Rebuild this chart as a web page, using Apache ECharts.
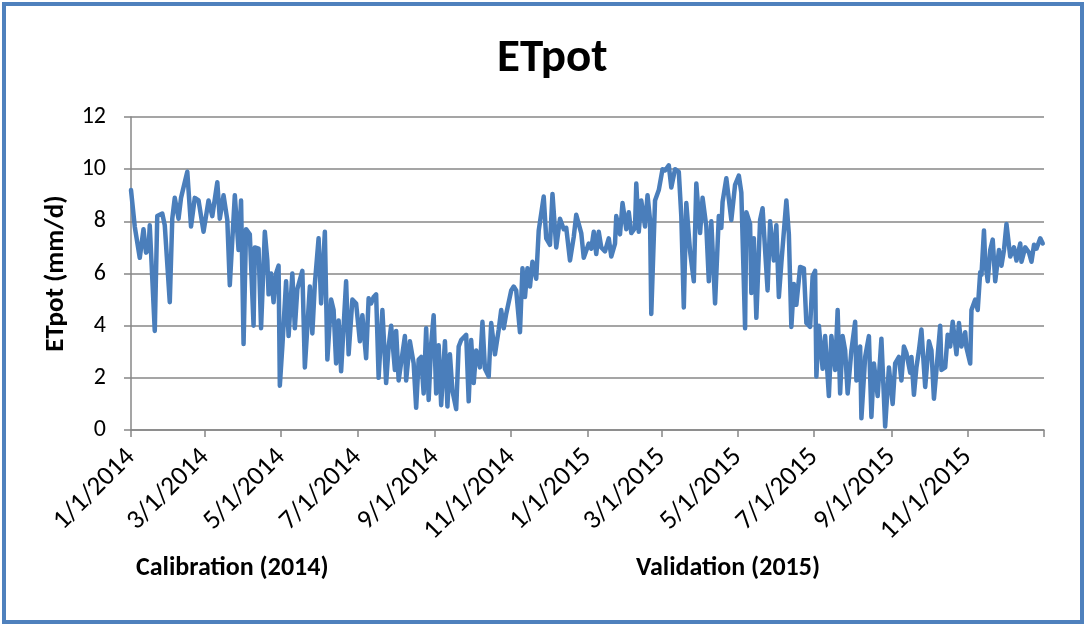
<!DOCTYPE html>
<html><head><meta charset="utf-8">
<script src="https://cdn.jsdelivr.net/npm/echarts@6/dist/echarts.min.js"></script>
<style>html,body{margin:0;padding:0;background:#fff}#c{width:1086px;height:626px}</style>
</head><body><div id="c"></div>
<script>
const chartTitle = 'ETpot';
const yAxisName = 'ETpot (mm/d)';
const tickLabels = ['1/1/2014','3/1/2014','5/1/2014','7/1/2014','9/1/2014','11/1/2014','1/1/2015','3/1/2015','5/1/2015','7/1/2015','9/1/2015','11/1/2015'];
const axisEndDate = '1/1/2016';
const yTicks = [0, 2, 4, 6, 8, 10, 12];
const periodLabels = ['Calibration (2014)', 'Validation (2015)'];

// day offsets from 1/1/2014 and ETpot values (mm/d)
const dayOffsets = [
0,3,7,10,12,14,15,19,21,25,27,31,33,35,38,40,45,48,51,54,58,62,65,69,71,74,77,79,83,86,88,90,
92,95,98,99,102,104,107,109,110,112,114,116,118,119,121,124,126,129,131,133,137,139,143,145,147,150,152,155,157,160,162,164,166,168,172,174,177,180,183,
185,188,190,192,194,196,198,201,204,206,208,211,212,214,219,220,223,226,228,230,232,234,236,238,240,242,244,246,248,251,253,255,257,260,262,264,268,270,272,
274,276,279,281,283,286,288,291,294,296,298,300,304,306,308,311,313,315,317,319,321,324,326,330,332,335,337,340,343,346,348,351,354,356,360,362,
366,368,370,372,374,376,379,382,384,387,388,391,393,396,398,400,403,404,406,408,411,413,415,416,419,422,425,427,430,432,435,438,440,442,444,447,450,452,455,457,
460,462,464,467,470,472,473,476,480,483,486,488,491,492,495,496,498,500,503,505,507,509,511,514,516,518,520,524,526,528,530,532,535,538,540,543,545,547,548,
550,553,555,558,560,563,565,567,569,571,573,576,579,580,583,584,587,590,592,594,597,600,603,606,609,611,614,616,618,620,623,624,626,628,630,632,635,638,640,642,
644,647,648,651,653,655,657,660,662,664,667,668,671,672,675,677,679,680,682,683,685,687,689,691,694,696,698,700,703,706,708,711,712,715,718,720,722,724,727,729
];
const values = [
9.2,7.8,6.6,7.7,6.8,6.9,7.85,3.8,8.2,8.3,7.85,4.9,8.1,8.9,8.1,8.9,9.9,7.8,8.9,8.8,7.6,8.8,8.2,9.5,8.1,9.0,8.05,5.55,9.0,6.9,8.8,3.3,
7.7,7.5,4.0,7.0,6.95,3.9,7.6,6.5,5.2,6.0,4.9,6.0,6.3,1.7,3.2,5.7,3.6,6.0,3.9,5.4,6.1,2.4,5.5,3.7,5.6,7.35,4.85,7.6,2.7,5.0,4.6,2.55,4.2,2.25,5.7,2.9,5.0,4.85,3.4,
4.4,2.75,5.05,4.85,5.1,5.2,2.0,4.6,1.8,3.2,4.0,2.3,3.8,1.9,3.6,1.9,3.4,2.55,0.85,2.7,2.8,1.4,3.9,1.15,3.3,4.4,1.4,3.25,0.95,3.4,0.9,2.9,1.5,0.8,3.2,3.45,3.65,1.1,3.45,
1.8,3.05,2.4,4.15,2.35,2.05,4.1,2.9,3.85,4.6,3.9,4.45,5.35,5.5,5.35,3.75,6.2,5.1,6.2,5.5,6.45,5.8,7.65,8.95,7.35,7.1,9.05,7.0,8.1,7.7,7.75,6.5,7.4,8.25,7.55,6.6,
7.15,6.95,7.6,6.75,7.6,7.0,6.85,7.35,6.65,7.15,8.2,7.5,8.7,7.7,8.35,7.55,7.75,9.45,7.6,8.8,7.8,9.0,8.05,4.45,8.8,9.2,10.0,9.95,10.15,9.3,10.0,9.9,8.2,4.7,8.7,6.85,5.7,9.45,7.55,8.9,
7.8,5.7,8.0,4.85,8.2,7.75,8.75,9.65,8.05,9.4,9.75,9.1,3.9,8.35,7.9,5.25,7.35,4.3,8.05,8.5,6.9,5.35,8.0,6.5,7.85,5.1,6.4,8.8,7.5,3.95,5.6,4.8,6.25,6.2,4.1,3.95,5.9,6.1,2.05,
4.0,2.35,3.6,1.3,3.6,2.3,4.6,1.4,3.6,3.05,1.4,3.05,4.15,1.9,3.2,0.45,2.8,3.6,0.5,2.55,1.3,3.5,0.13,2.4,1.0,2.55,2.8,1.9,3.2,2.95,2.2,2.8,1.35,2.4,3.05,3.85,1.65,3.4,3.05,1.2,
2.3,4.0,2.3,2.4,3.65,3.2,4.15,2.9,4.1,3.2,3.75,3.15,2.55,4.6,5.0,4.6,6.05,5.95,7.65,6.45,5.7,6.9,7.3,5.7,6.9,6.3,6.9,7.9,6.65,7.0,6.5,7.15,6.45,7.0,6.8,6.45,7.1,6.95,7.35,7.15
];

function parseMDY(s) { const p = s.split('/').map(Number); return Date.UTC(p[2], p[0] - 1, p[1]); }
const DAY = 86400000;
const t0 = parseMDY(tickLabels[0]);
const tickDays = tickLabels.map(s => Math.round((parseMDY(s) - t0) / DAY));
const endDay = Math.round((parseMDY(axisEndDate) - t0) / DAY);
const seriesData = dayOffsets.map((d, i) => [d, values[i]]);

const FONT = 'Carlito, Lato, "Open Sans", sans-serif';
const GRAY = '#878787';

const chart = echarts.init(document.getElementById('c'), null, { renderer: 'canvas' });
chart.setOption({
  animation: false,
  backgroundColor: '#fff',
  title: {
    text: chartTitle, left: 492, top: 31,
    textStyle: { fontFamily: FONT, fontSize: 47, fontWeight: 'bold', color: '#000' }
  },
  grid: { left: 131, right: 42, top: 117, bottom: 196, containLabel: false },
  xAxis: {
    type: 'value', min: 0, max: endDay,
    axisLine: { show: true, onZero: false, lineStyle: { color: GRAY, width: 1.5 } },
    axisTick: { show: true, length: 7, customValues: tickDays.concat([endDay]), lineStyle: { color: GRAY, width: 1.5 } },
    axisLabel: {
      customValues: tickDays, rotate: 45, margin: 23,
      fontFamily: FONT, fontSize: 27, color: '#000',
      formatter: function (v) {
        let best = 0, bd = Infinity;
        tickDays.forEach((t, i) => { const dd = Math.abs(t - v); if (dd < bd) { bd = dd; best = i; } });
        return tickLabels[best];
      }
    },
    splitLine: { show: false }
  },
  yAxis: {
    type: 'value', min: yTicks[0], max: yTicks[yTicks.length - 1], interval: yTicks[1] - yTicks[0],
    name: yAxisName, nameLocation: 'middle', nameRotate: 90, nameGap: 61, nameMoveOverlap: false,
    nameTextStyle: { fontFamily: FONT, fontSize: 27, fontWeight: 'bold', color: '#000' },
    axisLine: { show: true, lineStyle: { color: GRAY, width: 1.5 } },
    axisTick: { show: true, length: 7, lineStyle: { color: GRAY, width: 1.5 } },
    axisLabel: { margin: 25, fontFamily: FONT, fontSize: 24, color: '#000' },
    splitLine: { show: true, lineStyle: { color: GRAY, width: 1.5 } }
  },
  series: [{
    type: 'line', data: seriesData, showSymbol: false, symbol: 'none',
    lineStyle: { color: '#4A7EBB', width: 4.5, join: 'round', cap: 'round' },
    itemStyle: { color: '#4A7EBB' }
  }],
  graphic: [
    { type: 'rect', shape: { x: 4, y: 4, width: 1078, height: 618 }, style: { fill: 'none', stroke: '#4F81BD', lineWidth: 4 }, silent: true },
    { type: 'text', left: 136, top: 555, style: { text: periodLabels[0], font: 'bold 26px ' + FONT, fill: '#000' } },
    { type: 'text', left: 636, top: 555, style: { text: periodLabels[1], font: 'bold 26px ' + FONT, fill: '#000' } }
  ]
});
</script></body></html>
